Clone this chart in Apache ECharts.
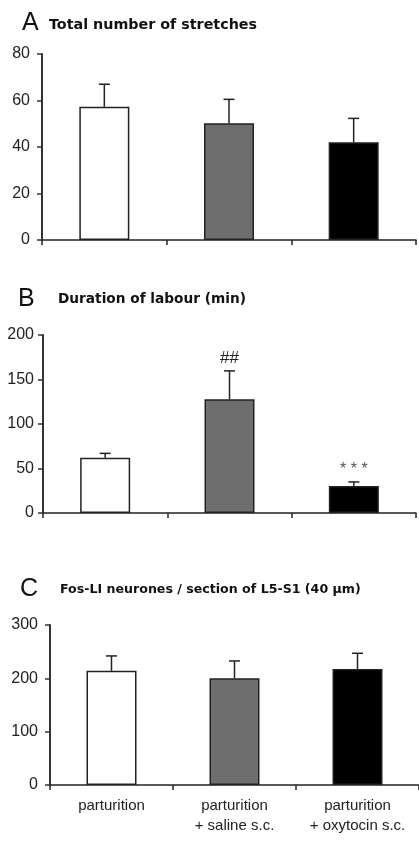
<!DOCTYPE html>
<html>
<head>
<meta charset="utf-8">
<script src="https://cdn.jsdelivr.net/npm/echarts@6/dist/echarts.min.js"></script>
<style>html,body{margin:0;padding:0;background:#fff;}#c{width:419px;height:841px;}</style>
</head>
<body>
<div id="c"></div>
<script>
const categories = ['parturition', 'parturition\n+ saline s.c.', 'parturition\n+ oxytocin s.c.'];
const barColors = ['#ffffff', '#6e6e6e', '#000000'];

const stretchesMean = [57.3, 50.2, 42.0];
const stretchesErr = [9.7, 10.3, 10.3];
const stretchesTicks = { min: 0, max: 80, interval: 20 };

const labourMean = [62, 127.7, 30.4];
const labourErr = [5, 32, 4.5];
const labourMarks = ['', '##', '***'];
const labourTicks = { min: 0, max: 200, interval: 50 };

const fosMean = [214, 200, 217.6];
const fosErr = [28, 32.6, 29.4];
const fosTicks = { min: 0, max: 300, interval: 100 };

const panelTitles = [
  { letter: 'A', text: 'Total number of stretches' },
  { letter: 'B', text: 'Duration of labour (min)' },
  { letter: 'C', text: 'Fos-LI neurones / section of L5-S1 (40 µm)' }
];

const FONT = '"Liberation Sans", Arial, sans-serif';
const TFONT = '"DejaVu Sans", sans-serif';
const chart = echarts.init(document.getElementById('c'), null, { renderer: 'canvas' });

const grids = [
  { left: 42, top: 54, width: 374, height: 186 },
  { left: 43, top: 335, width: 373, height: 178 },
  { left: 50, top: 625, width: 373, height: 160 }
];
const labelMargins = [12, 9, 12];
const ticks = [stretchesTicks, labourTicks, fosTicks];
const means = [stretchesMean, labourMean, fosMean];
const errs = [stretchesErr, labourErr, fosErr];
const marks = [['', '', ''], labourMarks, ['', '', '']];

const xAxes = grids.map((g, i) => ({
  type: 'category', gridIndex: i, data: categories, boundaryGap: true,
  axisLine: { show: true, lineStyle: { color: '#222', width: 1.5 } },
  axisTick: { show: true, length: 5, inside: false, lineStyle: { color: '#222', width: 1.5 } },
  axisLabel: { show: i === 2, color: '#222', fontSize: 15, fontFamily: FONT, margin: 11, lineHeight: 20, interval: 0 },
  splitLine: { show: false }
}));
const yAxes = grids.map((g, i) => ({
  type: 'value', gridIndex: i, min: ticks[i].min, max: ticks[i].max, interval: ticks[i].interval,
  axisLine: { show: true, lineStyle: { color: '#333', width: 2 } },
  axisTick: { show: true, length: 5, lineStyle: { color: '#333', width: 1.5 } },
  axisLabel: { color: '#222', fontSize: 16, fontFamily: FONT, margin: labelMargins[i] },
  splitLine: { show: false }
}));

const series = [];
grids.forEach((g, i) => {
  series.push({
    type: 'bar', xAxisIndex: i, yAxisIndex: i, barWidth: 50,
    data: means[i].map((v, k) => ({ value: v, itemStyle: { color: barColors[k], borderColor: '#222', borderWidth: 1.5 } })),
    z: 2, silent: true
  });
  series.push({
    type: 'custom', xAxisIndex: i, yAxisIndex: i, z: 3, silent: true,
    data: means[i].map((v, k) => [k, v, v + errs[i][k]]),
    renderItem: function (params, api) {
      const base = api.coord([api.value(0), api.value(1)]);
      const top = api.coord([api.value(0), api.value(2)]);
      const mk = marks[i][params.dataIndex];
      const children = [
        { type: 'line', shape: { x1: base[0], y1: base[1], x2: top[0], y2: top[1] }, style: { stroke: '#222', lineWidth: 1.5 } },
        { type: 'line', shape: { x1: top[0] - 5.5, y1: top[1], x2: top[0] + 5.5, y2: top[1] }, style: { stroke: '#222', lineWidth: 1.5 } }
      ];
      if (mk === '***') {
        children.push({ type: 'text', style: { text: mk.split('').join(' '), x: top[0], y: top[1] - 20, textAlign: 'center', textVerticalAlign: 'top', font: '16px ' + FONT, fill: '#555' } });
      } else if (mk) {
        children.push({ type: 'text', style: { text: mk, x: top[0], y: top[1] - 4.5, textAlign: 'center', textVerticalAlign: 'bottom', font: '17px ' + FONT, fill: '#222' } });
      }
      return { type: 'group', children: children };
    }
  });
});

const letterPos = [[22, 23], [18, 299], [20, 589]];
const titlePos = [[49, 25], [58, 299.5], [60, 590]];
const titleSizes = [14.3, 13.7, 12.6];
const graphics = [];
panelTitles.forEach((t, i) => {
  graphics.push({ type: 'text', x: letterPos[i][0], y: letterPos[i][1], style: { text: t.letter, font: '25px ' + FONT, fill: '#111', textVerticalAlign: 'middle' } });
  graphics.push({ type: 'text', x: titlePos[i][0], y: titlePos[i][1], style: { text: t.text, font: 'bold ' + titleSizes[i] + 'px ' + TFONT, fill: '#111', textVerticalAlign: 'middle' } });
});

chart.setOption({
  animation: false,
  backgroundColor: '#fff',
  grid: grids.map(g => Object.assign({ containLabel: false }, g)),
  xAxis: xAxes,
  yAxis: yAxes,
  series: series,
  graphic: graphics
});
</script>
</body>
</html>
